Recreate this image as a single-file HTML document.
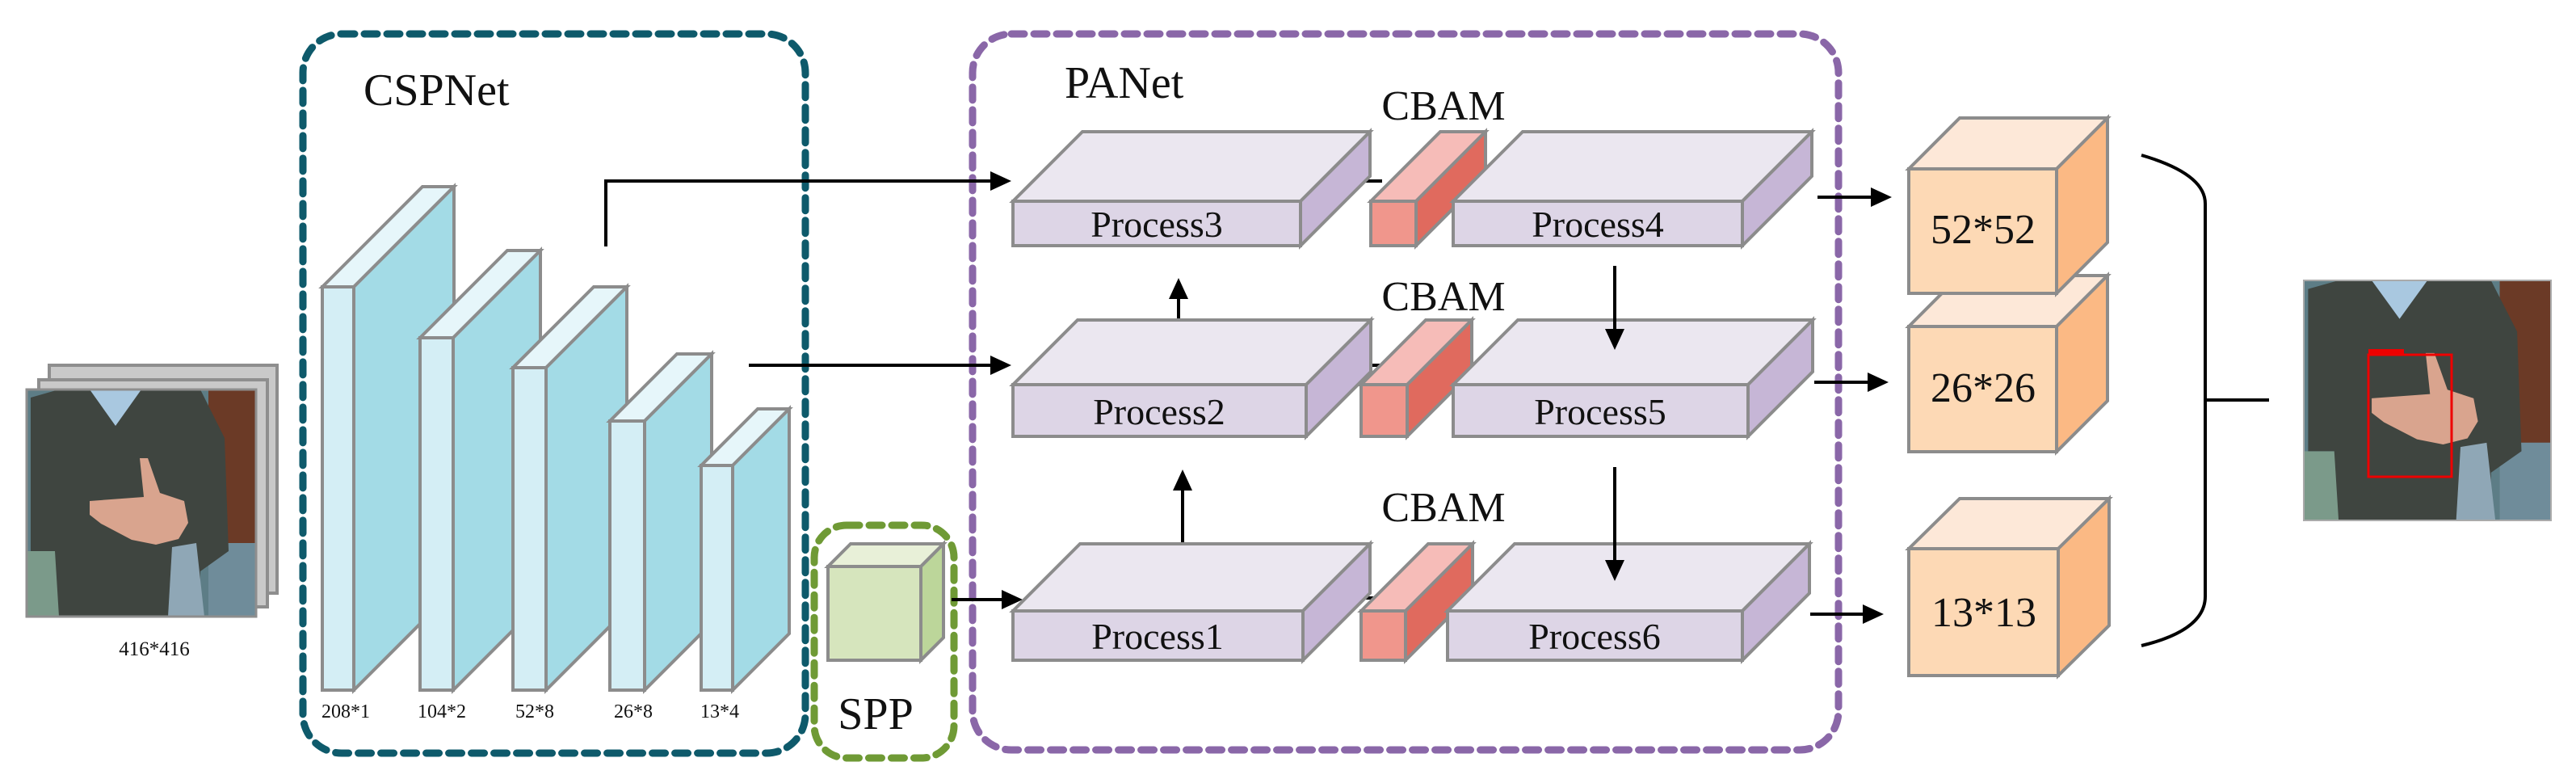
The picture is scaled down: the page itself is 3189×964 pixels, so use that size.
<!DOCTYPE html>
<html><head><meta charset="utf-8"><style>
html,body{margin:0;padding:0;background:#fff;}
svg{display:block;}
svg text{font-family:"Liberation Serif",serif;fill:#111;}
</style></head><body>
<svg width="3189" height="964" viewBox="0 0 3189 964" xmlns="http://www.w3.org/2000/svg" font-family="Liberation Serif, serif">
<defs>
<g id="photo">
<rect x="0" y="0" width="284" height="281" fill="#5d7d86"/>
<rect x="225" y="0" width="59" height="190" fill="#6b3a26"/>
<rect x="225" y="190" width="59" height="91" fill="#6f8c9a"/>
<rect x="0" y="200" width="40" height="81" fill="#7b9a8a"/>
<polygon points="5,10 40,0 215,0 245,60 250,200 215,225 215,281 40,281 35,200 5,200" fill="#3f4540"/>
<polygon points="78,0 142,0 110,45" fill="#a9c8e0"/>
<polygon points="78,138 145,133 140,85 150,85 165,128 195,138 200,165 188,185 160,192 130,186 92,166 78,155" fill="#d9a48e"/>
<polygon points="180,195 210,190 220,281 175,281" fill="#8fa7b6"/>
</g>
</defs>

<!-- input photo stack -->
<rect x="61" y="452" width="282" height="282" fill="#c9c9c9" stroke="#8e8e8e" stroke-width="4"/>
<rect x="48" y="470" width="283" height="281" fill="#c9c9c9" stroke="#8e8e8e" stroke-width="4"/>
<use href="#photo" x="33" y="482"/>
<rect x="33" y="482" width="284" height="281" fill="none" stroke="#8e8e8e" stroke-width="3"/>
<text x="191" y="811" font-size="25" text-anchor="middle">416*416</text>

<!-- CSPNet box -->
<rect x="375" y="42" width="622" height="890" rx="48" fill="none" stroke="#0e5a6b" stroke-width="9" stroke-dasharray="16,12" stroke-linecap="round"/>
<text x="450" y="130" font-size="56">CSPNet</text>

<g stroke="#8c8c8c" stroke-width="4" stroke-linejoin="miter">
<polygon points="399,355 523,231 562,231 438,355" fill="#e6f6fa"/>
<polygon points="438,355 562,231 562,730 438,854" fill="#a3dbe6"/>
<rect x="399" y="355" width="39" height="499" fill="#d4eef5"/>
<polygon points="520,418 628,310 669,310 561,418" fill="#e6f6fa"/>
<polygon points="561,418 669,310 669,746 561,854" fill="#a3dbe6"/>
<rect x="520" y="418" width="41" height="436" fill="#d4eef5"/>
<polygon points="635,455 735,355 776,355 676,455" fill="#e6f6fa"/>
<polygon points="676,455 776,355 776,754 676,854" fill="#a3dbe6"/>
<rect x="635" y="455" width="41" height="399" fill="#d4eef5"/>
<polygon points="755,521 838,438 881,438 798,521" fill="#e6f6fa"/>
<polygon points="798,521 881,438 881,771 798,854" fill="#a3dbe6"/>
<rect x="755" y="521" width="43" height="333" fill="#d4eef5"/>
<polygon points="868,576 938,506 977,506 907,576" fill="#e6f6fa"/>
<polygon points="907,576 977,506 977,784 907,854" fill="#a3dbe6"/>
<rect x="868" y="576" width="39" height="278" fill="#d4eef5"/>
</g>
<g font-size="24">
<text x="428" y="888" text-anchor="middle">208*1</text>
<text x="547" y="888" text-anchor="middle">104*2</text>
<text x="662" y="888" text-anchor="middle">52*8</text>
<text x="784" y="888" text-anchor="middle">26*8</text>
<text x="891" y="888" text-anchor="middle">13*4</text>
</g>

<!-- SPP -->
<rect x="1008" y="650" width="173" height="288" rx="40" fill="none" stroke="#6f9a35" stroke-width="9" stroke-dasharray="16,12" stroke-linecap="round"/>
<g stroke="#8c8c8c" stroke-width="4">
<polygon points="1025,701 1053,673 1168,673 1140,701" fill="#e8f0d8"/>
<polygon points="1140,701 1168,673 1168,789 1140,817" fill="#bcd69a"/>
<rect x="1025" y="701" width="115" height="116" fill="#d6e5bd"/>
</g>
<text x="1084" y="902" font-size="56" text-anchor="middle">SPP</text>

<!-- PANet box -->
<rect x="1204" y="42" width="1072" height="886" rx="48" fill="none" stroke="#8a67a8" stroke-width="9" stroke-dasharray="16,12" stroke-linecap="round"/>
<text x="1318" y="121" font-size="56">PANet</text>
<g font-size="52" text-anchor="middle">
<text x="1787" y="148">CBAM</text>
<text x="1787" y="384">CBAM</text>
<text x="1787" y="645">CBAM</text>
</g>

<!-- connectors -->
<g stroke="#000" stroke-width="4" fill="none">
<polyline points="750,305 750,224 1230,224"/>
<line x1="927" y1="452" x2="1230" y2="452"/>
<line x1="1178" y1="742" x2="1244" y2="742"/>
<line x1="1459" y1="447" x2="1459" y2="366"/>
<line x1="1464" y1="722" x2="1464" y2="603"/>
<line x1="2250" y1="244" x2="2320" y2="244"/>
<line x1="2246" y1="473" x2="2316" y2="473"/>
<line x1="2241" y1="760" x2="2310" y2="760"/>
<line x1="1687" y1="224" x2="1711" y2="224"/>
<line x1="1794" y1="230" x2="1812" y2="230"/>
<line x1="1693" y1="452" x2="1711" y2="452"/>
<line x1="1788" y1="462" x2="1806" y2="462"/>
<line x1="1686" y1="740" x2="1704" y2="740"/>
<line x1="1788" y1="740" x2="1806" y2="740"/>
</g>
<g fill="#000">
<polygon points="1252,224 1226,212 1226,236"/>
<polygon points="1252,452 1226,440 1226,464"/>
<polygon points="1266,742 1240,730 1240,754"/>
<polygon points="1459,344 1447,370 1471,370"/>
<polygon points="1464,581 1452,607 1476,607"/>
<polygon points="2342,244 2316,232 2316,256"/>
<polygon points="2338,473 2312,461 2312,485"/>
<polygon points="2332,760 2306,748 2306,772"/>
</g>

<!-- process slabs -->
<g stroke="#8c8c8c" stroke-width="4">
<polygon points="1254,249 1340,163 1696,163 1610,249" fill="#ebe7f0"/>
<polygon points="1610,249 1696,163 1696,218 1610,304" fill="#c6b6d6"/>
<rect x="1254" y="249" width="356" height="55" fill="#ddd5e6"/>
<polygon points="1697,249 1783,163 1839,163 1753,249" fill="#f6bcb8"/>
<polygon points="1753,249 1839,163 1839,218 1753,304" fill="#e06a5e"/>
<rect x="1697" y="249" width="56" height="55" fill="#f0968c"/>
<polygon points="1799,249 1885,163 2243,163 2157,249" fill="#ebe7f0"/>
<polygon points="2157,249 2243,163 2243,218 2157,304" fill="#c6b6d6"/>
<rect x="1799" y="249" width="358" height="55" fill="#ddd5e6"/>

<polygon points="1254,476 1334,396 1697,396 1617,476" fill="#ebe7f0"/>
<polygon points="1617,476 1697,396 1697,460 1617,540" fill="#c6b6d6"/>
<rect x="1254" y="476" width="363" height="64" fill="#ddd5e6"/>
<polygon points="1685,476 1765,396 1822,396 1742,476" fill="#f6bcb8"/>
<polygon points="1742,476 1822,396 1822,460 1742,540" fill="#e06a5e"/>
<rect x="1685" y="476" width="57" height="64" fill="#f0968c"/>
<polygon points="1799,476 1879,396 2244,396 2164,476" fill="#ebe7f0"/>
<polygon points="2164,476 2244,396 2244,460 2164,540" fill="#c6b6d6"/>
<rect x="1799" y="476" width="365" height="64" fill="#ddd5e6"/>

<polygon points="1254,756 1337,673 1696,673 1613,756" fill="#ebe7f0"/>
<polygon points="1613,756 1696,673 1696,734 1613,817" fill="#c6b6d6"/>
<rect x="1254" y="756" width="359" height="61" fill="#ddd5e6"/>
<polygon points="1685,756 1768,673 1823,673 1740,756" fill="#f6bcb8"/>
<polygon points="1740,756 1823,673 1823,734 1740,817" fill="#e06a5e"/>
<rect x="1685" y="756" width="55" height="61" fill="#f0968c"/>
<polygon points="1792,756 1875,673 2240,673 2157,756" fill="#ebe7f0"/>
<polygon points="2157,756 2240,673 2240,734 2157,817" fill="#c6b6d6"/>
<rect x="1792" y="756" width="365" height="61" fill="#ddd5e6"/>
</g>
<line x1="1999" y1="329" x2="1999" y2="412" stroke="#000" stroke-width="4"/>
<polygon points="1999,433 1987,407 2011,407" fill="#000"/>
<line x1="1999" y1="578" x2="1999" y2="698" stroke="#000" stroke-width="4"/>
<polygon points="1999,719 1987,693 2011,693" fill="#000"/>
<g font-size="46" text-anchor="middle">
<text x="1432" y="293">Process3</text>
<text x="1978" y="293">Process4</text>
<text x="1435" y="525">Process2</text>
<text x="1981" y="525">Process5</text>
<text x="1433" y="803">Process1</text>
<text x="1974" y="803">Process6</text>
</g>

<!-- output cubes -->
<g stroke="#8c8c8c" stroke-width="4">
<polygon points="2363,404 2426,341 2609,341 2546,404" fill="#fde8d8"/>
<polygon points="2546,404 2609,341 2609,496 2546,559" fill="#fbb984"/>
<rect x="2363" y="404" width="183" height="155" fill="#fdd9b5"/>
<polygon points="2363,209 2426,146 2609,146 2546,209" fill="#fde8d8"/>
<polygon points="2546,209 2609,146 2609,300 2546,363" fill="#fbb984"/>
<rect x="2363" y="209" width="183" height="154" fill="#fdd9b5"/>
<polygon points="2363,679 2426,617 2611,617 2548,679" fill="#fde8d8"/>
<polygon points="2548,679 2611,617 2611,774 2548,836" fill="#fbb984"/>
<rect x="2363" y="679" width="185" height="157" fill="#fdd9b5"/>
</g>
<g font-size="52" text-anchor="middle">
<text x="2455" y="301">52*52</text>
<text x="2455" y="497">26*26</text>
<text x="2456" y="775">13*13</text>
</g>

<!-- bracket -->
<path d="M2651,192 Q2730,215 2730,252 L2730,738 Q2730,780 2651,799" fill="none" stroke="#000" stroke-width="4"/>
<line x1="2730" y1="495" x2="2809" y2="495" stroke="#000" stroke-width="4"/>

<!-- output photo -->
<g transform="translate(2852,347) scale(1.078,1.057)"><use href="#photo"/></g>
<rect x="2852" y="347" width="306" height="297" fill="none" stroke="#aaa" stroke-width="2"/>
<rect x="2932" y="439" width="103" height="151" fill="none" stroke="#e00" stroke-width="3"/>
<rect x="2932" y="432" width="44" height="7" fill="#e00"/>
</svg>
</body></html>
